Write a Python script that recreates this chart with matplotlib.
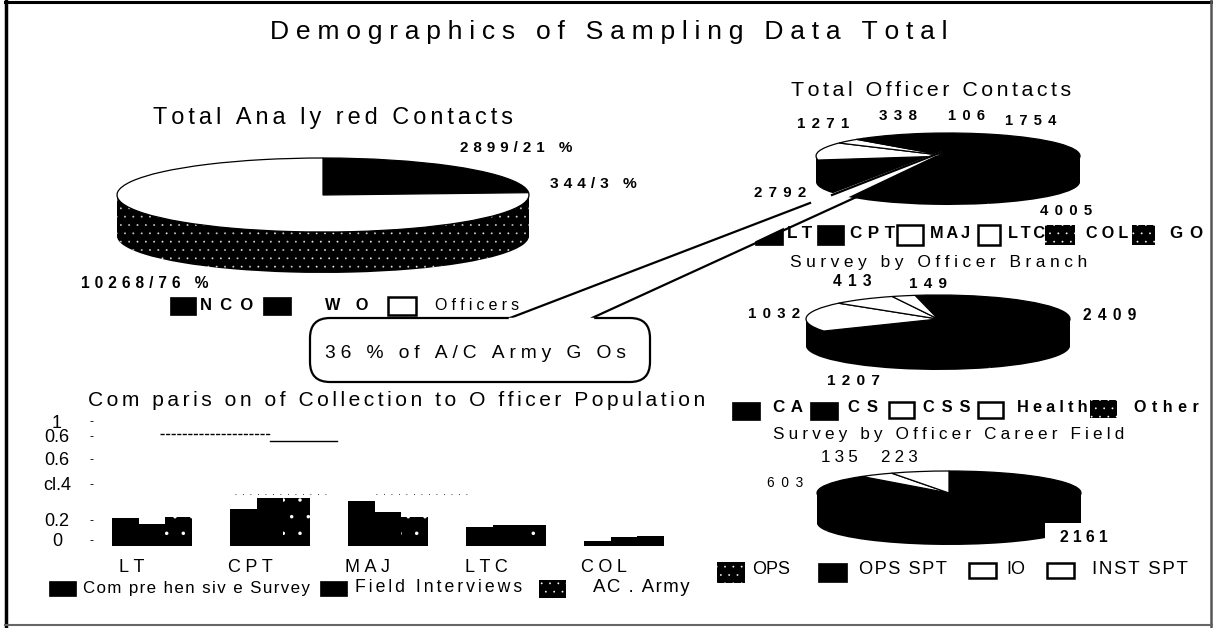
import numpy as np
import matplotlib
matplotlib.use('Agg')
import matplotlib.pyplot as plt
from matplotlib.patches import FancyBboxPatch, Rectangle

W, H = 1213, 628
plt.rcParams['font.family'] = ['Liberation Sans', 'DejaVu Sans']
plt.rcParams['hatch.linewidth'] = 0.1

# pie values
analyzed_vals = [2899, 344, 10268]
analyzed_top = ['black', 'black', 'white']
officer_vals = [1754, 4005, 2792, 1271, 338, 106]
officer_top = ['black', 'black', 'black', 'white', 'white', 'black']
branch_vals = [2409, 1207, 1032, 413, 149]
branch_top = ['black', 'black', 'white', 'white', 'white']
career_vals = [2161, 603, 135, 223]
career_top = ['black', 'black', 'white', 'white']

# bar chart values
ranks = ['LT', 'CPT', 'MAJ', 'LTC', 'COL']
comprehensive = [0.225, 0.295, 0.36, 0.155, 0.04]
field_interviews = [0.175, 0.385, 0.27, 0.17, 0.07]
ac_army = [0.23, 0.385, 0.23, 0.17, 0.08]
y_tick_vals = [0.05, 0.21, 0.50, 0.70, 0.88, 1.0]
y_tick_labels = ['0', '0.2', 'cl.4', '0.6', '0.6', '1']

HAIR = '\u200a'
fig = plt.figure(figsize=(W / 100, H / 100), dpi=100, facecolor='white')


def track(s, n):
    return (HAIR * n).join(s)


def draw_pie(vals, top_colors, side_hatch, start, cx, cy, rx, ry, depth):
    ax = fig.add_axes([(cx - rx) / W, 1 - (cy + ry + depth) / H, 2 * rx / W, (2 * ry + depth) / H])
    # stack of copies going down gives the thickness of the pie
    for d in np.arange(depth, 0, -1):
        ax.pie(vals, colors=['black'] * len(vals), startangle=start, counterclock=False,
               center=(0, -d / ry), hatch=side_hatch,
               wedgeprops={'edgecolor': 'white', 'linewidth': 0})
    ax.pie(vals, colors=top_colors, startangle=start, counterclock=False,
           wedgeprops={'edgecolor': 'black', 'linewidth': 0.9, 'clip_on': False})
    ax.set_aspect('auto')
    ax.set_xlim(-1, 1)
    ax.set_ylim(-1 - depth / ry, 1)
    ax.axis('off')


draw_pie(analyzed_vals, analyzed_top, [None, None, '..'], 90, 323, 195, 206, 37, 41)
draw_pie(officer_vals, officer_top, [None], 130, 948, 156, 132, 23, 26)
draw_pie(branch_vals, branch_top, [None], 100, 938, 319, 132, 24, 27)
draw_pie(career_vals, career_top, [None], 90, 949, 493, 132, 22, 30)

# bar chart
bx = fig.add_axes([93 / W, 1 - 546 / H, 590 / W, 128 / H])
x = np.arange(len(ranks))
bar_w = 0.225
bx.bar(x - bar_w, comprehensive, bar_w, color='black')
bx.bar(x, field_interviews, bar_w, color='black')
bx.bar(x + bar_w, ac_army, bar_w, color='black', hatch='.', edgecolor='white', linewidth=0)
bx.set_xlim(-0.5, 4.5)
bx.set_ylim(0, 1.024)
# broken gridlines left over in the scan
bx.plot([0.07, 1.0], [0.90, 0.90], color='black', lw=1, ls=(0, (3, 1)))
bx.plot([1.0, 1.57], [0.84, 0.84], color='black', lw=1)
bx.plot([0.7, 1.5], [0.42, 0.42], color='black', lw=0.6, ls=(0, (1, 8)))
bx.plot([1.9, 2.7], [0.42, 0.42], color='black', lw=0.6, ls=(0, (1, 8)))
for side in bx.spines.values():
    side.set_visible(False)
bx.set_yticks(y_tick_vals, y_tick_labels, fontsize=13)
bx.tick_params(axis='y', length=2, width=0.6, pad=24)
for t in bx.get_yticklabels():
    t.set_ha('center')
bx.set_xticks(x - 0.17, [track(r, 3) for r in ranks], fontsize=13)
bx.tick_params(axis='x', length=0, pad=9)

# page overlay for titles, legends, callout and frame
page = fig.add_axes([0, 0, 1, 1], facecolor='none')
page.set_xlim(0, W)
page.set_ylim(H, 0)
page.axis('off')
renderer = fig.canvas.get_renderer()


def label(x0, x1, y, s, size=11, bold=False):
    # letter spacing of the original: pick the hair space count that fits, then nudge the size
    best = None
    for n in range(0, 9):
        t = page.text(x0, y, track(s, n), fontsize=size, va='center', ha='left',
                      fontweight='bold' if bold else 'normal')
        w = t.get_window_extent(renderer).width
        t.remove()
        if best is None or abs(w - (x1 - x0)) < abs(best[1] - (x1 - x0)):
            best = (n, w)
    page.text(x0, y, track(s, best[0]), fontsize=size * (x1 - x0) / best[1], va='center', ha='left',
              fontweight='bold' if bold else 'normal')


def swatch(x0, x1, y0, y1, kind):
    if kind == 'white':
        page.add_patch(Rectangle((x0, y0), x1 - x0, y1 - y0, fc='white', ec='black', lw=1.8))
    elif kind == 'hatch':
        page.add_patch(Rectangle((x0, y0), x1 - x0, y1 - y0, fc='black', ec='white', lw=0, hatch='..'))
    else:
        page.add_patch(Rectangle((x0, y0), x1 - x0, y1 - y0, fc='black', ec='black', lw=0.5))


# frame
page.plot([6, 6], [0, H], color='black', lw=2.5)
page.plot([5, W], [2, 2], color='black', lw=2.2)
page.plot([W - 2, W - 2], [0, H], color='#555555', lw=1.8)
page.plot([5, W], [H - 3, H - 3], color='#666666', lw=1.5)

# the scan cuts the lower right corner off the career pie
page.add_patch(Rectangle((1045, 523), 42, 26, fc='white', ec='none'))

# callout, tail runs up into the officer pie
page.add_patch(FancyBboxPatch((310, 318), 340, 64, boxstyle='round,pad=0,rounding_size=20',
                              fc='white', ec='black', lw=1.6))
page.fill([510, 942, 592], [318, 152, 318], color='white', zorder=3)
page.plot([510, 810], [318, 203], color='black', lw=1.6, zorder=3)
page.plot([832, 942], [195, 152], color='black', lw=1.6, zorder=3)
page.plot([592, 946], [318, 156], color='black', lw=1.6, zorder=3)
page.plot([510, 592], [318.5, 318.5], color='white', lw=2.5, zorder=3)

label(270, 948, 32, 'Demographics of Sampling Data Total', 19)
label(153, 513, 118, 'Total Ana ly red Contacts', 16)
label(791, 1074, 90, 'Total Officer Contacts', 16)
label(790, 1082, 262, 'Survey by Officer Branch', 13)
label(773, 1127, 434, 'Survey by Officer Career Field', 13)
label(88, 706, 400, 'Com paris on of Collection to O fficer Population', 16)
label(325, 625, 353, '36 % of A/C Army G Os', 14)

# pie labels
label(460, 572, 148, '2899/21 %', 11, True)
label(550, 637, 184, '344/3 %', 11, True)
label(81, 209, 283, '10268/76 %', 11, True)
label(797, 849, 124, '1271', 11, True)
label(879, 917, 116, '338', 11, True)
label(948, 985, 116, '106', 11, True)
label(1005, 1056, 121, '1754', 11, True)
label(754, 806, 193, '2792', 11, True)
label(1040, 1092, 211, '4005', 11, True)
label(833, 872, 282, '413', 11, True)
label(909, 947, 284, '149', 11, True)
label(748, 800, 314, '1032', 11, True)
label(1083, 1137, 315, '2409', 11, True)
label(827, 880, 381, '1207', 11, True)
label(821, 858, 458, '135', 12)
label(881, 918, 458, '223', 12)
label(767, 803, 483, '603', 10)
label(1060, 1107, 538, '2161', 11, True)

# legends
swatch(170, 196, 297, 315, 'black')
label(200, 253, 306, 'NCO', 12, True)
swatch(263, 291, 297, 315, 'black')
label(325, 368, 306, 'W O', 12, True)
swatch(388, 416, 297, 315, 'white')
label(435, 518, 306, 'Officers', 12)

swatch(755, 783, 225, 245, 'black')
label(787, 812, 233, 'LT', 12, True)
swatch(817, 844, 225, 245, 'black')
label(850, 895, 233, 'CPT', 12, True)
swatch(897, 923, 225, 245, 'white')
label(930, 970, 233, 'MAJ', 12, True)
swatch(978, 1000, 225, 245, 'white')
label(1008, 1045, 233, 'LTC', 12, True)
swatch(1045, 1075, 225, 245, 'hatch')
label(1086, 1128, 233, 'COL', 12, True)
swatch(1132, 1155, 225, 245, 'hatch')
label(1170, 1203, 233, 'GO', 12, True)

swatch(732, 760, 402, 420, 'black')
label(773, 803, 407, 'CA', 12, True)
swatch(810, 838, 402, 420, 'black')
label(848, 878, 407, 'CS', 12, True)
swatch(889, 914, 402, 418, 'white')
label(923, 970, 407, 'CSS', 12, True)
swatch(978, 1003, 402, 418, 'white')
label(1017, 1087, 407, 'Health', 12, True)
swatch(1090, 1117, 400, 418, 'hatch')
label(1134, 1198, 407, 'Other', 12, True)

swatch(717, 745, 562, 583, 'hatch')
label(752, 790, 570, 'OPS', 13)
swatch(818, 847, 563, 582, 'black')
label(859, 947, 570, 'OPS SPT', 13)
swatch(969, 996, 563, 578, 'white')
label(1006, 1025, 570, 'IO', 13)
swatch(1047, 1074, 563, 578, 'white')
label(1092, 1187, 570, 'INST SPT', 13)

swatch(49, 76, 581, 596, 'black')
label(83, 308, 588, 'Com pre hen siv e Survey', 13)
swatch(320, 347, 581, 596, 'black')
label(355, 522, 588, 'Field Interviews', 13)
swatch(539, 566, 580, 598, 'hatch')
label(593, 690, 588, 'AC . Army', 13)

fig.savefig('out.png', dpi=100)
